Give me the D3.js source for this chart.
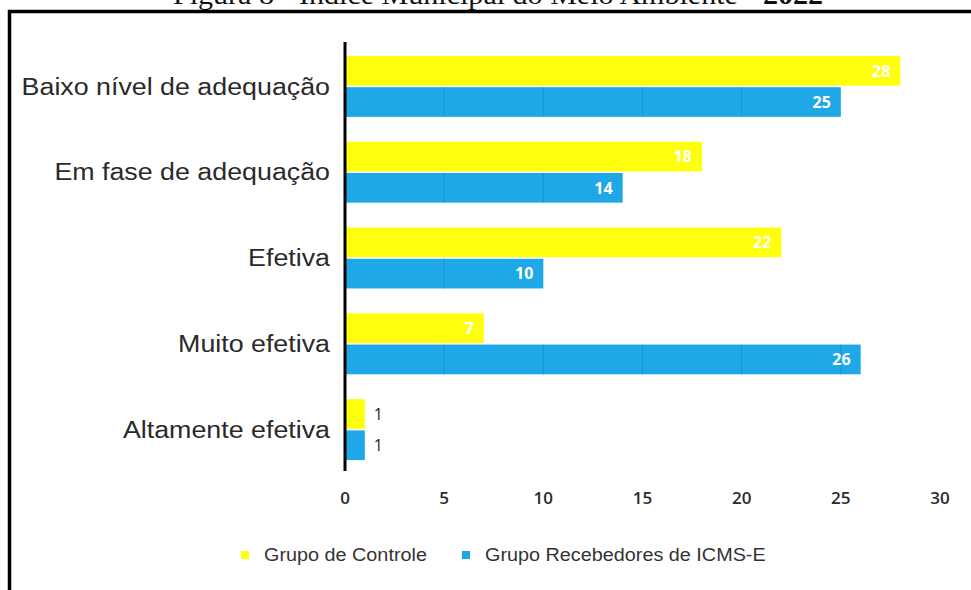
<!DOCTYPE html>
<html lang="pt">
<head>
    <meta charset="UTF-8">
    <title>Índice Municipal do Meio Ambiente - 2022</title>
    <script src="https://d3js.org/d3.v7.min.js"></script>
    <style>
        body { margin: 0; background: #fff; }
        svg { display: block; }
    </style>
</head>
<body>
    <div id="chart"></div>

    <script>
        const categories = ["Baixo nível de adequação", "Em fase de adequação", "Efetiva", "Muito efetiva", "Altamente efetiva"];
        const series = ["Grupo de Controle", "Grupo Recebedores de ICMS-E"];
        const controle = [28, 18, 22, 7, 1];
        const recebedores = [25, 14, 10, 26, 1];
        const xTicks = [0, 5, 10, 15, 20, 25, 30];
        const colors = ["#ffff0c", "#1fa8e8"];

        const width = 971, height = 590;

        const svg = d3.select("#chart")
            .append("svg")
            .attr("width", width)
            .attr("height", height);

        // the scanned figure looks stretched sideways, so widen texts a bit
        function stretch(sel, k) {
            sel.each(function() {
                const w = this.getComputedTextLength();
                d3.select(this)
                    .attr("textLength", w * k)
                    .attr("lengthAdjust", "spacingAndGlyphs");
            });
        }

        // title, cut off at the top like in the scan
        svg.append("text")
            .attr("x", 173)
            .attr("y", 4)
            .attr("font-family", "Liberation Serif, DejaVu Serif, serif")
            .attr("font-size", 28)
            .attr("fill", "#111")
            .attr("textLength", 650)
            .attr("lengthAdjust", "spacingAndGlyphs")
            .html('Figura 8 - Índice Municipal do Meio Ambiente - <tspan font-weight="bold">2022</tspan>');

        // frame
        svg.append("path")
            .attr("d", `M9.5,${height} V11.5 H${width}`)
            .attr("fill", "none")
            .attr("stroke", "#000")
            .attr("stroke-width", 3.5);

        const x = d3.scaleLinear().domain([0, 30]).range([345, 940]);
        const y = d3.scaleBand().domain(categories).range([43.5, 472.5])
            .paddingInner(0.29).paddingOuter(0.145);
        const ySub = d3.scaleBand().domain(series).range([0, y.bandwidth()]).paddingInner(0.05);

        const rows = categories.map((c, i) => ({ cat: c, values: [controle[i], recebedores[i]] }));

        const group = svg.selectAll("g.cat")
            .data(rows)
            .join("g")
            .attr("class", "cat")
            .attr("transform", d => `translate(0,${y(d.cat)})`);

        const bars = group.selectAll("g.bar")
            .data(d => d.values.map((v, j) => ({ v: v, s: series[j], j: j })))
            .join("g")
            .attr("class", "bar");

        bars.append("rect")
            .attr("x", x(0))
            .attr("y", d => ySub(d.s))
            .attr("width", d => x(d.v) - x(0))
            .attr("height", ySub.bandwidth())
            .attr("fill", d => colors[d.j]);

        // faint grid lines showing through the blue bars
        bars.filter(d => d.j === 1).each(function(d) {
            d3.select(this).selectAll("line")
                .data(xTicks.filter(t => t > 0 && t < d.v))
                .join("line")
                .attr("x1", t => x(t)).attr("x2", t => x(t))
                .attr("y1", ySub(d.s)).attr("y2", ySub(d.s) + ySub.bandwidth())
                .attr("stroke", "#1897d2")
                .attr("stroke-width", 1);
        });

        // value labels
        bars.append("text")
            .attr("x", d => d.v > 3 ? x(d.v) - 10 : x(d.v) + 9)
            .attr("y", d => ySub(d.s) + ySub.bandwidth() / 2)
            .attr("dy", "0.36em")
            .attr("text-anchor", d => d.v > 3 ? "end" : "start")
            .attr("font-family", "Open Sans, sans-serif")
            .attr("font-weight", d => d.v > 3 ? 700 : 400)
            .attr("font-size", 16)
            .attr("fill", d => d.v > 3 ? "#fff" : "#222")
            .text(d => d.v);

        // category labels
        svg.selectAll("text.cat")
            .data(categories)
            .join("text")
            .attr("class", "cat")
            .attr("x", 330)
            .attr("y", d => y(d) + y.bandwidth() / 2)
            .attr("dy", "0.36em")
            .attr("text-anchor", "end")
            .attr("font-family", "Liberation Sans, Arial, sans-serif")
            .attr("font-size", 23)
            .attr("fill", "#2a2a2a")
            .text(d => d)
            .call(stretch, 1.165);

        // axis line
        svg.append("line")
            .attr("x1", x(0)).attr("x2", x(0))
            .attr("y1", 42).attr("y2", 471)
            .attr("stroke", "#000")
            .attr("stroke-width", 3);

        // x tick labels
        svg.selectAll("text.tick")
            .data(xTicks)
            .join("text")
            .attr("class", "tick")
            .attr("x", d => x(d))
            .attr("y", 504)
            .attr("text-anchor", "middle")
            .attr("font-family", "Open Sans, sans-serif")
            .attr("font-weight", 600)
            .attr("font-size", 17)
            .attr("fill", "#2a2a2a")
            .text(d => d);

        // legend
        const legendX = [245, 466];
        const legend = svg.selectAll("g.legend")
            .data(series)
            .join("g")
            .attr("class", "legend")
            .attr("transform", (d, i) => `translate(${legendX[i]},555)`);

        legend.append("rect")
            .attr("x", -4).attr("y", -4)
            .attr("width", 8).attr("height", 8)
            .attr("fill", (d, i) => colors[i]);

        legend.append("text")
            .attr("x", 19)
            .attr("dy", "0.36em")
            .attr("font-family", "Liberation Sans, Arial, sans-serif")
            .attr("font-size", 18)
            .attr("fill", "#333")
            .text(d => d)
            .call(stretch, 1.1);
    </script>
</body>
</html>
